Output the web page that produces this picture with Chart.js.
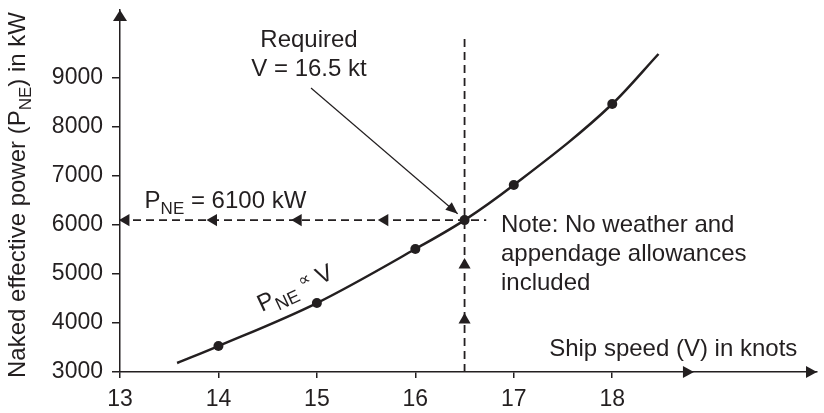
<!DOCTYPE html>
<html>
<head>
<meta charset="utf-8">
<script src="https://cdn.jsdelivr.net/npm/chart.js@4.4.0/dist/chart.umd.min.js"></script>
<style>
  body { margin: 0; background: #fff; }
  #wrap { width: 824px; height: 413px; position: relative; }
</style>
</head>
<body>
<div id="wrap"><canvas id="chart"></canvas></div>
<script>
// ship speed (knots) vs naked effective power (kW)
var speeds = [13.58, 14, 15, 16, 16.5, 17, 18, 18.47];
var powers = [3184, 3530, 4408, 5510, 6100, 6816, 8469, 9490];
var dotSize = [0, 5, 5, 5, 5, 5, 5, 0];

var xTicks = [13, 14, 15, 16, 17, 18];
var yTicks = [3000, 4000, 5000, 6000, 7000, 8000, 9000];

var reqSpeed = 16.5;
var reqPower = 6100;
var hDashEnd = 16.72;
var vDashTop = 9857;
var leftArrowX = [13.06, 13.95, 14.81, 15.69];
var upArrowY = [4061, 5184];
var leaderX = [14.94, 16.43];
var leaderY = [8796, 6230];

var INK = '#231f20';
var FONT = '"Liberation Sans", Arial, sans-serif';

function pts(xs, ys) {
  return xs.map(function (x, i) { return { x: x, y: ys[i] }; });
}

// text with sub/superscripts: parts = [text, size, dy]
function rich(ctx, parts, x, y, align) {
  var w = 0;
  parts.forEach(function (p) { ctx.font = p[1] + 'px ' + FONT; w += ctx.measureText(p[0]).width; });
  var cx = x;
  if (align === 'center') cx = x - w / 2;
  if (align === 'right') cx = x - w;
  ctx.textAlign = 'left';
  ctx.textBaseline = 'alphabetic';
  parts.forEach(function (p) {
    ctx.font = p[1] + 'px ' + FONT;
    ctx.fillText(p[0], cx, y + (p[2] || 0));
    cx += ctx.measureText(p[0]).width;
  });
}

function arrowHead(ctx, x, y, ang, len, half) {
  ctx.save();
  ctx.translate(x, y);
  ctx.rotate(ang);
  ctx.beginPath();
  ctx.moveTo(0, 0);
  ctx.lineTo(-len, -half);
  ctx.lineTo(-len, half);
  ctx.closePath();
  ctx.fill();
  ctx.restore();
}

var decor = {
  id: 'decor',
  afterDraw: function (chart) {
    var ctx = chart.ctx, a = chart.chartArea;
    var xs = chart.scales.x, ys = chart.scales.y;
    function px(v) { return xs.getPixelForValue(v); }
    function py(v) { return ys.getPixelForValue(v); }
    ctx.save();
    ctx.fillStyle = INK;

    // axis arrows
    arrowHead(ctx, a.left, a.top, -Math.PI / 2, 11, 7);
    arrowHead(ctx, a.right, a.bottom, 0, 11, 6);
    arrowHead(ctx, px(18.83), a.bottom, 0, 11, 6);

    // leader arrow
    var x0 = px(leaderX[0]), y0 = py(leaderY[0]);
    var x1 = px(leaderX[1]), y1 = py(leaderY[1]);
    arrowHead(ctx, x1, y1, Math.atan2(y1 - y0, x1 - x0), 12, 5);

    // labels
    rich(ctx, [['Required', 24]], px(14.92), py(9630), 'center');
    rich(ctx, [['V = 16.5 kt', 24]], px(14.92), py(9041), 'center');
    rich(ctx, [['P', 24], ['NE', 17, 6], [' = 6100 kW', 24]], px(13.25), py(6347), 'left');
    rich(ctx, [['Note: No weather and', 24]], px(16.87), py(5857), 'left');
    rich(ctx, [['appendage allowances', 24]], px(16.87), py(5265), 'left');
    rich(ctx, [['included', 24]], px(16.87), py(4673), 'left');
    rich(ctx, [['Ship speed (V) in knots', 24]], px(19.88), py(3327), 'right');

    ctx.save();
    ctx.translate(px(14.44), py(4224));
    ctx.rotate(-25 * Math.PI / 180);
    rich(ctx, [['P', 24], ['NE', 18, 6], [' \u221D', 17, -6], [' V', 24]], 0, 0, 'left');
    ctx.restore();

    ctx.save();
    ctx.translate(a.left - 95, (a.top + a.bottom) / 2 + 4);
    ctx.rotate(-Math.PI / 2);
    rich(ctx, [['Naked effective power (P', 24], ['NE', 17, 6], [') in kW', 24]], 0, 0, 'center');
    ctx.restore();

    ctx.restore();
  }
};

function plain(v) { return String(v); }

new Chart(document.getElementById('chart'), {
  type: 'scatter',
  data: {
    datasets: [
      {
        data: pts(speeds, powers),
        showLine: true,
        borderColor: INK,
        backgroundColor: INK,
        borderWidth: 2.5,
        cubicInterpolationMode: 'monotone',
        pointRadius: dotSize,
        pointBorderWidth: 0
      },
      {
        data: pts([13, hDashEnd], [reqPower, reqPower]),
        showLine: true,
        borderColor: INK,
        borderWidth: 1.8,
        borderDash: [8, 5],
        pointRadius: 0
      },
      {
        data: pts([reqSpeed, reqSpeed], [3000, vDashTop]),
        showLine: true,
        borderColor: INK,
        borderWidth: 1.8,
        borderDash: [8, 5],
        pointRadius: 0
      },
      {
        data: pts(leftArrowX, leftArrowX.map(function () { return reqPower; })),
        pointStyle: 'triangle',
        rotation: -90,
        pointRadius: 7,
        pointBorderWidth: 0,
        backgroundColor: INK
      },
      {
        data: pts(upArrowY.map(function () { return reqSpeed; }), upArrowY),
        pointStyle: 'triangle',
        rotation: 0,
        pointRadius: 7,
        pointBorderWidth: 0,
        backgroundColor: INK
      },
      {
        data: pts(leaderX, leaderY),
        showLine: true,
        borderColor: INK,
        borderWidth: 1.2,
        pointRadius: 0
      }
    ]
  },
  options: {
    responsive: true,
    maintainAspectRatio: false,
    animation: false,
    layout: { padding: { top: 10, right: 1, left: 0, bottom: 0 } },
    plugins: { legend: { display: false }, tooltip: { enabled: false } },
    scales: {
      x: {
        type: 'linear',
        min: 13,
        max: 20.08,
        afterBuildTicks: function (s) { s.ticks = xTicks.map(function (v) { return { value: v }; }); },
        afterFit: function (s) { s.height = 41; s.paddingLeft = 0; s.paddingRight = 0; },
        grid: { drawOnChartArea: false, drawTicks: true, tickLength: 6, color: INK, lineWidth: 1.5 },
        border: { color: INK, width: 1.5 },
        ticks: { color: INK, font: { family: FONT, size: 23 }, padding: 8, maxRotation: 0, callback: plain }
      },
      y: {
        type: 'linear',
        min: 3000,
        max: 10388,
        afterBuildTicks: function (s) { s.ticks = yTicks.map(function (v) { return { value: v }; }); },
        afterFit: function (s) { s.width = 120; s.paddingTop = 0; s.paddingBottom = 0; },
        grid: { drawOnChartArea: false, drawTicks: true, tickLength: 8, color: INK, lineWidth: 1.5 },
        border: { color: INK, width: 1.5 },
        ticks: { color: INK, font: { family: FONT, size: 23 }, padding: 9, callback: plain }
      }
    }
  },
  plugins: [decor]
});
</script>
</body>
</html>
